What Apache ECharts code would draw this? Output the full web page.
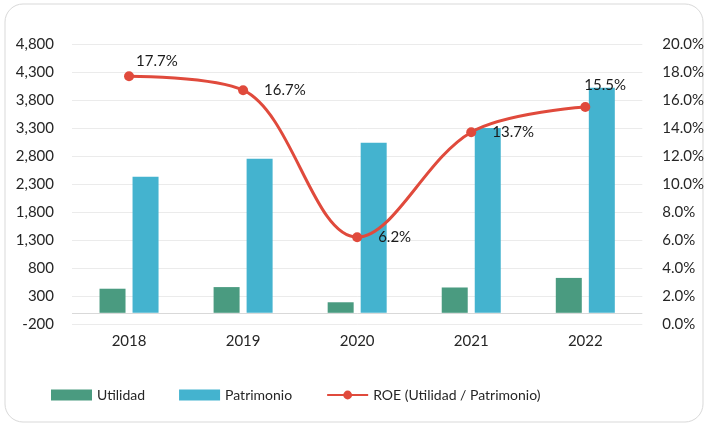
<!DOCTYPE html>
<html>
<head>
<meta charset="utf-8">
<script src="https://cdn.jsdelivr.net/npm/echarts@6/dist/echarts.min.js"></script>
<style>
  html, body { margin: 0; padding: 0; background: #fff; }
  #chart { width: 707px; height: 426px; }
</style>
</head>
<body>
<div id="chart"></div>
<script>
// datos
var years = ['2018', '2019', '2020', '2021', '2022'];
var utilidad = [430, 459, 188, 452, 623];
var patrimonio = [2430, 2750, 3036, 3300, 4020];
var roe = [17.7, 16.7, 6.2, 13.7, 15.5];

var font = 'Lato, "Open Sans", sans-serif';
var chart = echarts.init(document.getElementById('chart'), null, { renderer: 'canvas' });

// posicion de las etiquetas del ROE (ajustadas a mano)
var roeLabels = [
    { position: 'right', distance: 16, offset: [-14, -15] },
    { position: 'right', distance: 16 },
    { position: 'right', distance: 16 },
    { position: 'right', distance: 16 },
    { position: 'right', distance: 16, offset: [-22, -22] }
];

var option = {
    backgroundColor: '#fff',
    textStyle: { fontFamily: font },
    graphic: [{
        type: 'rect',
        shape: { x: 5, y: 4, width: 698, height: 418, r: 18 },
        style: { fill: 'none', stroke: '#d9d9d9', lineWidth: 1 },
        silent: true
    }],
    grid: { left: 72, right: 60, top: 44, bottom: 102 },
    legend: {
        top: 383,
        left: 46,
        itemWidth: 41,
        itemHeight: 11,
        itemGap: 34,
        textStyle: { fontFamily: font, fontSize: 14, color: '#262626' },
        data: [
            { name: 'Utilidad', icon: 'rect' },
            { name: 'Patrimonio', icon: 'rect' },
            { name: 'ROE (Utilidad / Patrimonio)' }
        ]
    },
    xAxis: {
        type: 'category',
        data: years,
        axisLine: { show: false, onZero: false },
        axisTick: { show: false },
        axisLabel: { fontSize: 15, color: '#262626', margin: 10 }
    },
    yAxis: [{
        type: 'value',
        min: -200,
        max: 4800,
        interval: 500,
        axisLine: { show: false },
        axisTick: { show: false },
        axisLabel: {
            fontSize: 15, color: '#262626', margin: 18,
            formatter: function (v) { return v.toLocaleString('en-US'); }
        },
        splitLine: { lineStyle: { color: '#ebebeb', width: 1 } }
    }, {
        type: 'value',
        min: 0,
        max: 20,
        interval: 2,
        axisLine: { show: false },
        axisTick: { show: false },
        splitLine: { show: false },
        axisLabel: {
            fontSize: 15, color: '#262626', margin: 20,
            formatter: function (v) { return v.toFixed(1) + '%'; }
        }
    }],
    series: [{
        name: 'Utilidad',
        type: 'bar',
        data: utilidad,
        barWidth: 26,
        barGap: '27%',
        itemStyle: { color: '#4a9b80' },
        markLine: {
            silent: true,
            symbol: 'none',
            label: { show: false },
            lineStyle: { color: '#d9d9d9', type: 'solid', width: 1 },
            data: [{ yAxis: 0 }]
        }
    }, {
        name: 'Patrimonio',
        type: 'bar',
        data: patrimonio,
        barWidth: 26,
        itemStyle: { color: '#44b3cf' }
    }, {
        name: 'ROE (Utilidad / Patrimonio)',
        type: 'line',
        yAxisIndex: 1,
        smooth: 0.35,
        symbol: 'circle',
        symbolSize: 10,
        z: 5,
        lineStyle: { color: '#e04a3c', width: 3 },
        itemStyle: { color: '#e04a3c' },
        data: roe.map(function (v, i) {
            return {
                value: v,
                label: Object.assign({
                    show: true,
                    fontSize: 15,
                    color: '#1a1a1a',
                    formatter: function (p) { return p.value.toFixed(1) + '%'; }
                }, roeLabels[i])
            };
        })
    }]
};

chart.setOption(option);
</script>
</body>
</html>
